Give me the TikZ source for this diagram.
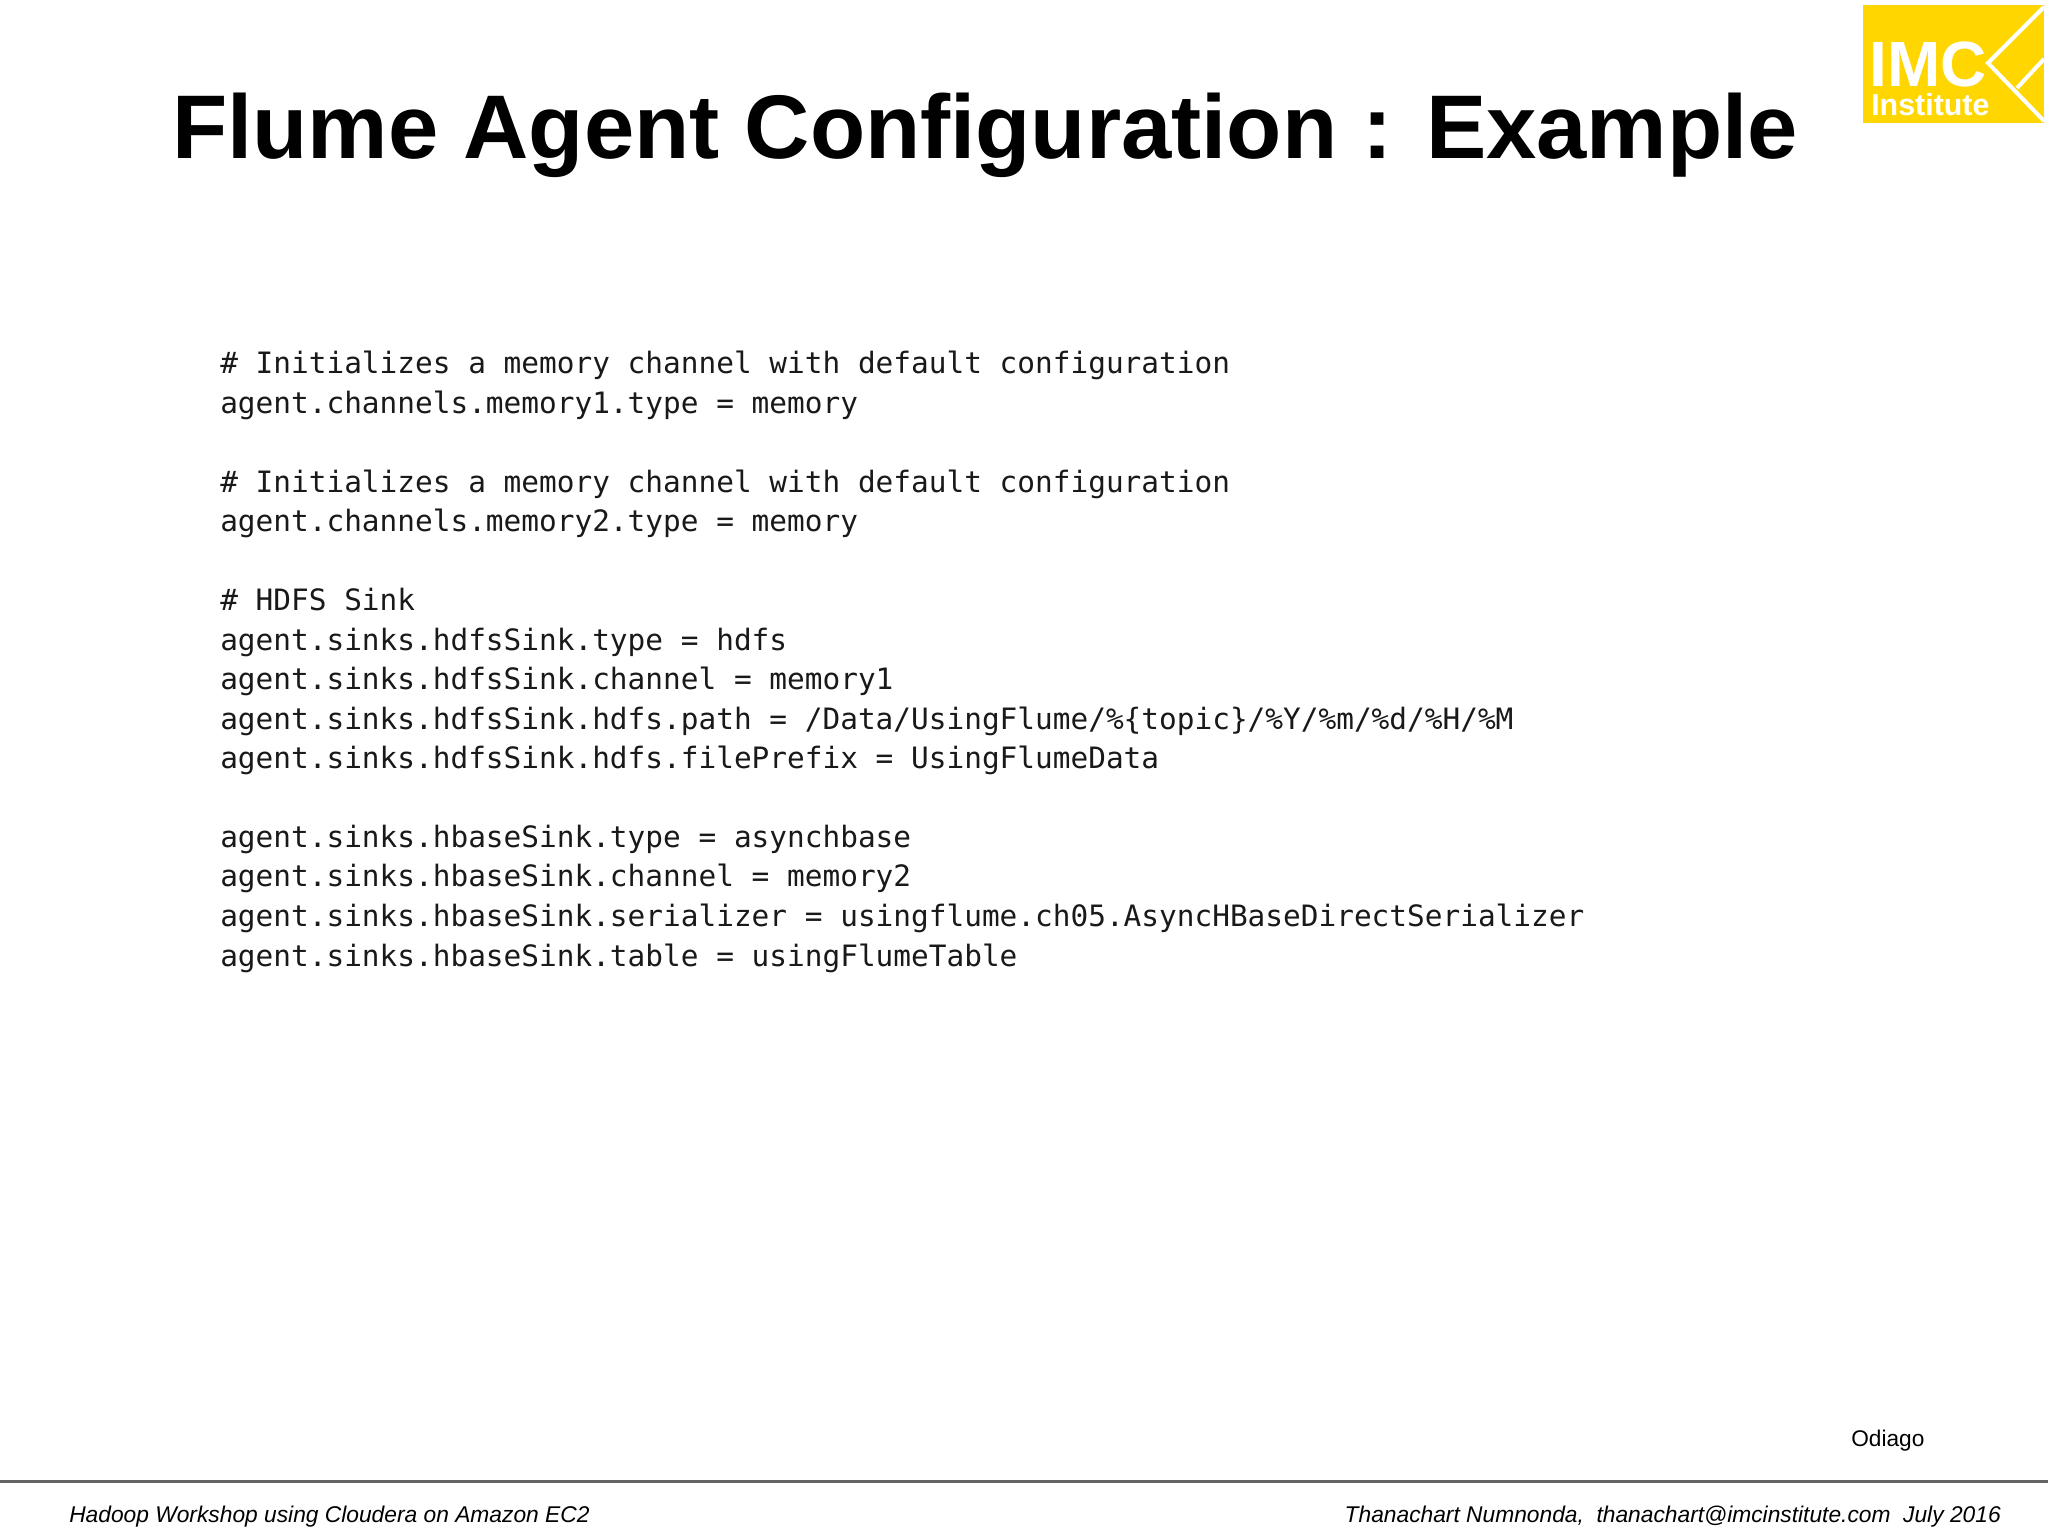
\documentclass[tikz,border=0pt]{standalone}
\usepackage{fontspec}
\setmainfont{Liberation Sans}
\setmonofont{DejaVu Sans Mono}
\definecolor{logoyellow}{RGB}{255,214,0}
\definecolor{footerline}{RGB}{100,100,100}

\begin{document}
\begin{tikzpicture}[x=0.75pt,y=0.75pt,yscale=-1,xscale=1,
  titletext/.style={anchor=base west,inner sep=0pt,font=\fontsize{67.8}{80}\selectfont\bfseries},
  codetext/.style={anchor=base west,inner sep=0pt,text=black!90,font=\fontsize{22.07}{26}\selectfont\ttfamily},
  footertext/.style={inner sep=0pt,font=\fontsize{17.08}{20}\selectfont\itshape},
  logotext/.style={anchor=base west,inner sep=0pt,text=white}]
\useasboundingbox (0,0) rectangle (2048,1536);

%Shape: Logo background
\fill [logoyellow] (1863,5) rectangle (2044,123);
%Shape: Logo chevron
\draw [white,line width=3pt] (2044,7) -- (1988,63) -- (2044,121);
\draw [white,line width=3pt] (2017,88) -- (2044,59);
% Text Node
\draw (1869,86) node (logoname) [logotext,font=\fontsize{48}{50}\selectfont\bfseries] {IMC};
% Text Node
\draw (1871,115) node (logosub) [logotext,font=\fontsize{22.8}{26}\selectfont\bfseries] {Institute};

% Text Node
\draw (172,158.5) node (title) [titletext] {Flume Agent Configuration : Example};

% Text Node
\draw (220,373) node (commentone) [codetext] {\# Initializes a memory channel with default configuration};
% Text Node
\draw (220,413) node (memoryone) [codetext] {agent.channels.memory1.type = memory};
% Text Node
\draw (220,492) node (commenttwo) [codetext] {\# Initializes a memory channel with default configuration};
% Text Node
\draw (220,531) node (memorytwo) [codetext] {agent.channels.memory2.type = memory};
% Text Node
\draw (220,610) node (commentthree) [codetext] {\# HDFS Sink};
% Text Node
\draw (220,650) node (hdfstype) [codetext] {agent.sinks.hdfsSink.type = hdfs};
% Text Node
\draw (220,689) node (hdfschannel) [codetext] {agent.sinks.hdfsSink.channel = memory1};
% Text Node
\draw (220,729) node (hdfspath) [codetext] {agent.sinks.hdfsSink.hdfs.path = /Data/UsingFlume/\%\{topic\}/\%Y/\%m/\%d/\%H/\%M};
% Text Node
\draw (220,768) node (hdfsprefix) [codetext] {agent.sinks.hdfsSink.hdfs.filePrefix = UsingFlumeData};
% Text Node
\draw (220,847) node (hbasetype) [codetext] {agent.sinks.hbaseSink.type = asynchbase};
% Text Node
\draw (220,886) node (hbasechannel) [codetext] {agent.sinks.hbaseSink.channel = memory2};
% Text Node
\draw (220,926) node (hbaseserializer) [codetext] {agent.sinks.hbaseSink.serializer = usingflume.ch05.AsyncHBaseDirectSerializer};
% Text Node
\draw (220,966) node (hbasetable) [codetext] {agent.sinks.hbaseSink.table = usingFlumeTable};

% Text Node
\draw (1851,1446.5) node (source) [anchor=base west,inner sep=0pt,font=\fontsize{17}{20}\selectfont] {Odiago};

%Shape: Footer rule
\draw [footerline,line width=1.9pt] (0,1481.5) -- (2048,1481.5);

% Text Node
\draw (69,1522) node (workshop) [footertext,anchor=base west] {Hadoop Workshop using Cloudera on Amazon EC2};
% Text Node
\draw (2001,1522) node (presenter) [footertext,anchor=base east] {Thanachart Numnonda,~~thanachart@imcinstitute.com~~July 2016};
\end{tikzpicture}
\end{document}
